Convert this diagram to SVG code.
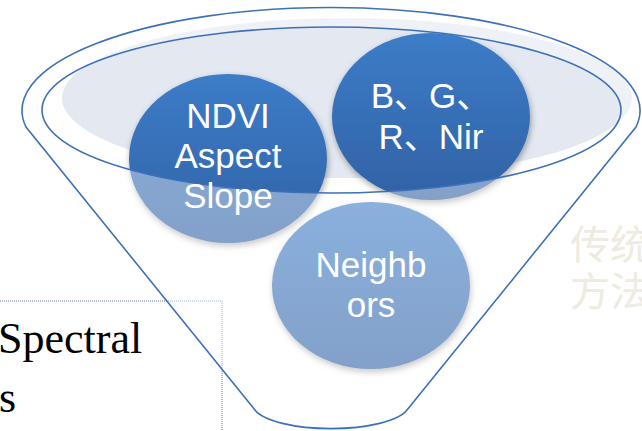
<svg xmlns="http://www.w3.org/2000/svg" width="642" height="431" viewBox="0 0 642 431">
  <style>
    .rim { fill: none; stroke: #3E70B8; stroke-width: 1.6; }
    .ball { fill: url(#ballFill); filter: url(#ballShadow); }
    .label { font-family: "Liberation Sans", Arial, "Noto Sans CJK SC", sans-serif; font-size: 35px; fill: #FFFFFF; text-anchor: middle; }
    .serif { font-family: "Liberation Serif", "Times New Roman", serif; font-size: 44px; fill: #000000; }
    .faint { font-family: "Noto Sans CJK SC", "Noto Sans CJK TC", sans-serif; font-size: 40px; fill: #EEEBE0; }
  </style>
  <defs>
    <linearGradient id="ballFill" x1="0" y1="0" x2="0" y2="1">
      <stop offset="0" stop-color="#3C7CC8"/>
      <stop offset="1" stop-color="#3162A5"/>
    </linearGradient>
    <filter id="ballShadow" x="-20%" y="-20%" width="140%" height="150%">
      <feDropShadow dx="1" dy="3" stdDeviation="3" flood-color="#000000" flood-opacity="0.35"/>
    </filter>
  </defs>

  <!-- text box on the lower left -->
  <g id="text-box">
    <rect x="-10" y="301" width="232" height="200" fill="none" stroke="#5B7DB5" stroke-width="1" stroke-dasharray="1 1"/>
    <text class="serif" x="-2" y="353">Spectral</text>
    <text class="serif" x="-1" y="412">s</text>
  </g>

  <!-- pale caption on the right -->
  <g id="side-label">
    <text class="faint" x="570" y="259">传统</text>
    <text class="faint" x="570" y="306">方法</text>
  </g>

  <!-- light surface inside the funnel mouth -->
  <ellipse id="funnel-surface" cx="347" cy="98" rx="285" ry="80" fill="#E3E8F1"/>

  <!-- the three items in the funnel -->
  <g id="node-ndvi">
    <ellipse class="ball" cx="228" cy="158.5" rx="99" ry="84.5"/>
  </g>
  <g id="node-bands">
    <ellipse class="ball" cx="431" cy="116.5" rx="99" ry="83.5"/>
  </g>
  <g id="node-neighbors">
    <ellipse class="ball" cx="371" cy="285.5" rx="99" ry="83.5"/>
  </g>

  <!-- translucent funnel body over everything below the rim -->
  <path id="funnel-body" fill="#FFFFFF" fill-opacity="0.4" fill-rule="evenodd"
        d="M 26 127 A 309 103 0 1 1 636 127 L 407 410 A 78 24 0 0 1 255 410 Z
           M 42 110 A 289.5 83 0 1 0 621 110 A 289.5 83 0 1 0 42 110 Z"/>

  <!-- funnel outlines -->
  <g id="connectors">
    <path class="rim" d="M 26 127 A 309 103 0 1 1 636 127 L 407 410 A 78 24 0 0 1 255 410 Z"/>
    <ellipse class="rim" cx="331.5" cy="110" rx="289.5" ry="83"/>
  </g>

  <!-- item labels -->
  <g id="labels">
    <text class="label" x="228" y="128">NDVI</text>
    <text class="label" x="228" y="168">Aspect</text>
    <text class="label" x="228" y="208">Slope</text>
    <text class="label" x="431" y="108">B、G、</text>
    <text class="label" x="431" y="149">R、Nir</text>
    <text class="label" x="371" y="277">Neighb</text>
    <text class="label" x="371" y="317">ors</text>
  </g>
</svg>
